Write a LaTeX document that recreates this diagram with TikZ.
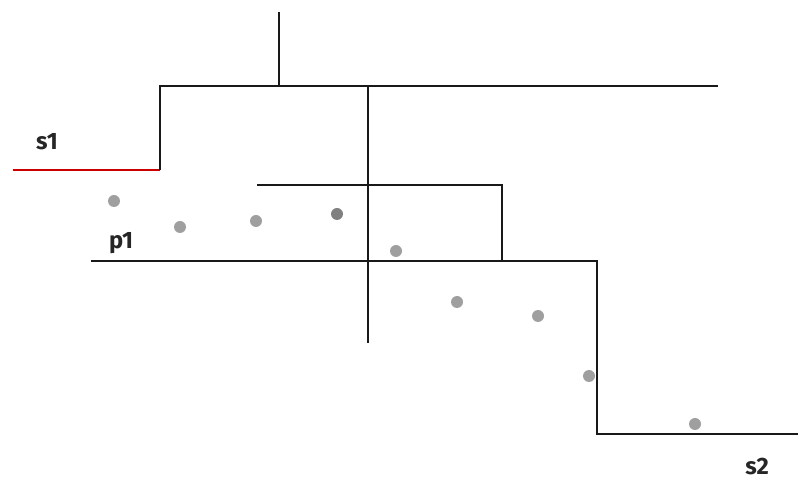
\documentclass[tikz,border=0pt]{standalone}
\usepackage{fontspec}
\setmainfont{Fira Sans}
\usetikzlibrary{positioning}

\tikzset{
    wall/.style={line width=1.3pt, black!90},
    sample/.style={circle, fill=gray!75, inner sep=0pt, minimum size=0.24cm},
    lbl/.style={font=\fontsize{13.5}{15}\selectfont\bfseries, text=black!85}
}

\begin{document}
\begin{tikzpicture}[x=0.02cm, y=-0.02cm]
    \useasboundingbox (0, 0) rectangle (798, 482);

    \node[lbl] (s1) at (47, 142) {s1};
    \node[lbl] (p1) at (121, 243) {p1};
    \node[lbl] (s2) at (757, 467) {s2};

    \coordinate (a0) at (13, 170);
    \coordinate (a1) at (160, 170);
    \coordinate (a2) at (160, 86);
    \coordinate (a3) at (718, 86);
    \coordinate (t0) at (279, 12);
    \coordinate (t1) at (279, 86);
    \coordinate (v0) at (368, 86);
    \coordinate (v1) at (368, 343);
    \coordinate (b0) at (257, 185);
    \coordinate (b1) at (502, 185);
    \coordinate (b2) at (502, 261);
    \coordinate (c0) at (91, 261);
    \coordinate (c1) at (597, 261);
    \coordinate (c2) at (597, 434);
    \coordinate (c3) at (798, 434);

    \draw[line width=1.3pt, red!80!black] (a0) -- (a1);
    \draw[wall] (a1) -- (a2) -- (a3);
    \draw[wall] (t0) -- (t1);
    \draw[wall] (v0) -- (v1);
    \draw[wall] (b0) -- (b1) -- (b2);
    \draw[wall] (c0) -- (c1) -- (c2) -- (c3);

    \node[sample] (d1) at (114, 201) {};
    \node[sample] (d2) at (180, 227) {};
    \node[sample] (d3) at (256, 221) {};
    \node[sample, fill=gray] (d4) at (337, 214) {};
    \node[sample] (d5) at (396, 251) {};
    \node[sample] (d6) at (457, 302) {};
    \node[sample] (d7) at (538, 316) {};
    \node[sample] (d8) at (589, 376) {};
    \node[sample] (d9) at (695, 424) {};
\end{tikzpicture}
\end{document}
